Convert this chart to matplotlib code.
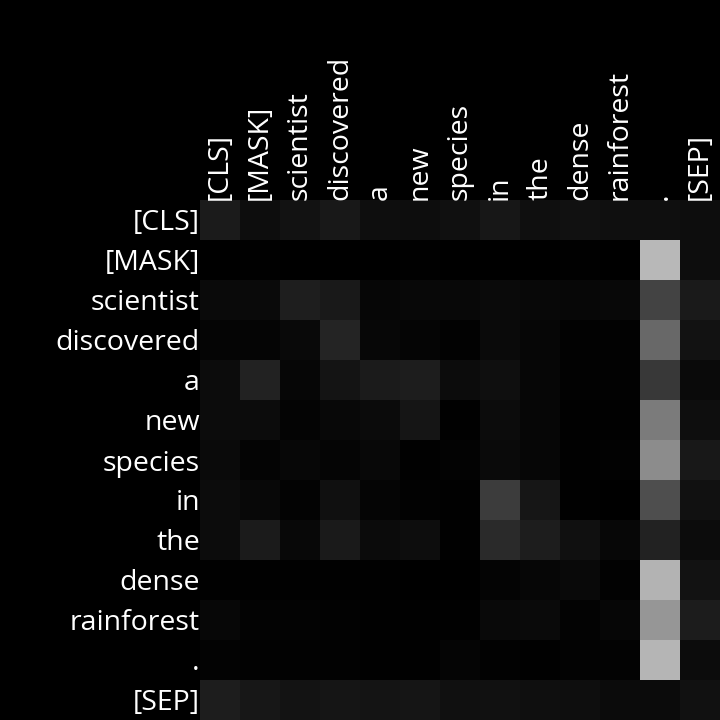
import numpy as np
import matplotlib
matplotlib.use("Agg")
import matplotlib.pyplot as plt

tokens = ['[CLS]', '[MASK]', 'scientist', 'discovered', 'a', 'new', 'species',
          'in', 'the', 'dense', 'rainforest', '.', '[SEP]']

# attention weights read from the grey levels (0-255)
row_cls = [27, 13, 18, 24, 14, 13, 16, 23, 15, 17, 15, 15, 13]
row_mask = [0, 1, 0, 0, 0, 1, 0, 0, 0, 1, 0, 184, 13]
row_scientist = [10, 10, 30, 25, 6, 8, 8, 10, 8, 7, 8, 67, 26]
row_discovered = [5, 5, 9, 37, 7, 5, 2, 10, 6, 2, 2, 104, 18]
row_a = [12, 34, 6, 20, 27, 29, 12, 15, 6, 2, 2, 57, 10]
row_new = [12, 12, 4, 8, 11, 21, 1, 12, 6, 1, 1, 123, 14]
row_species = [10, 4, 7, 5, 8, 1, 3, 10, 6, 1, 2, 140, 24]
row_in = [12, 8, 3, 16, 5, 2, 1, 61, 22, 1, 0, 78, 17]
row_the = [12, 27, 8, 26, 11, 13, 1, 42, 29, 16, 7, 34, 12]
row_dense = [1, 1, 1, 1, 1, 0, 0, 4, 6, 9, 2, 179, 18]
row_rainforest = [7, 3, 3, 2, 1, 1, 1, 9, 10, 3, 6, 150, 28]
row_dot = [3, 2, 2, 2, 1, 1, 5, 2, 1, 3, 3, 181, 12]
row_sep = [29, 23, 19, 21, 20, 21, 16, 17, 15, 14, 11, 11, 17]

attn = np.array([row_cls, row_mask, row_scientist, row_discovered, row_a,
                 row_new, row_species, row_in, row_the, row_dense,
                 row_rainforest, row_dot, row_sep]) / 255.0

plt.rcParams['font.family'] = ['Open Sans', 'DejaVu Sans']

fig = plt.figure(figsize=(7.2, 7.2), dpi=100, facecolor='black')
ax = fig.add_axes([200 / 720, 0, 520 / 720, 520 / 720])
ax.set_facecolor('black')
ax.imshow(attn, cmap='gray', vmin=0, vmax=1, aspect='auto', interpolation='nearest')

ax.set_xticks(range(len(tokens)))
ax.set_yticks(range(len(tokens)))
ax.set_xticklabels(tokens, rotation=90, color='white', fontsize=20.5)
ax.set_yticklabels(tokens, color='white', fontsize=20.5)
ax.xaxis.tick_top()
ax.tick_params(length=0, pad=0)
for s in ax.spines.values():
    s.set_visible(False)

fig.savefig('out.png', dpi=100, facecolor='black')
